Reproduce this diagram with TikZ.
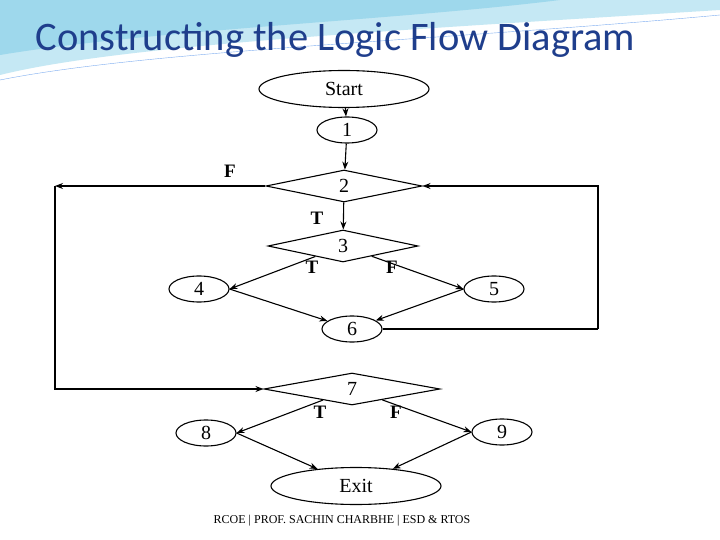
\documentclass[tikz,border=0pt]{standalone}
\usepackage{fontspec}
\setmainfont{Liberation Serif}
\newfontfamily\titlefont{Carlito}
\usetikzlibrary{shapes.geometric,arrows.meta}
\definecolor{titleblue}{HTML}{1F3E8C}
\definecolor{swoosh}{HTML}{9ED8EC}
\begin{document}
\begin{tikzpicture}[x=1pt,y=-1pt,
  ov/.style={draw,ellipse,line width=1.1pt,minimum width=60pt,minimum height=26pt,inner sep=0pt,font=\fontsize{20}{20}\selectfont},
  bigov/.style={ov,minimum width=170pt,minimum height=37pt},
  dm/.style={draw,diamond,line width=1.1pt,aspect=4.8,inner sep=0pt,font=\fontsize{20}{20}\selectfont},
  ar/.style={line width=1.1pt,-{Stealth[length=8pt,width=6pt]}},
  lb/.style={font=\fontsize{19}{19}\selectfont\bfseries}]
\useasboundingbox (0,0) rectangle (720,540);
\fill[white] (0,0) rectangle (720,540);
% decorative swoosh
\fill[swoosh!60] (0,0) -- (0,75) .. controls (120,45) and (400,30) .. (720,10) -- (720,0) -- cycle;
\fill[swoosh] (0,0) -- (0,55) .. controls (150,30) and (400,20) .. (560,0) -- cycle;
\draw[swoosh!80!blue,thin] (0,80) .. controls (150,50) and (450,40) .. (720,15);
\node[font=\titlefont\fontsize{40.5}{40.5}\selectfont,text=titleblue,anchor=west] (title) at (32,40) {Constructing the Logic Flow Diagram};
% nodes
\node[bigov] (start) at (344,89) {Start};
\node[ov] (n1) at (347,130) {1};
\node[dm,minimum width=156pt,minimum height=32pt] (n2) at (344,186) {2};
\node[dm,minimum width=150pt,minimum height=32pt] (n3) at (343,246) {3};
\node[ov] (n4) at (199,289) {4};
\node[ov] (n5) at (494,289) {5};
\node[ov] (n6) at (352,329) {6};
\node[dm,minimum width=176pt,minimum height=32pt] (n7) at (352,389) {7};
\node[ov] (n8) at (206,433) {8};
\node[ov] (n9) at (502,432) {9};
\node[bigov] (exit) at (356,486) {Exit};
\coordinate (l1) at (55,186);
\coordinate (l2) at (55,389);
\coordinate (r1) at (598,329);
\coordinate (r2) at (598,186);
% connectors
\draw[ar] (start) -- (n1);
\draw[ar] (n1) -- (n2);
\draw[ar] (n2) -- (n3);
\draw[ar] (n2.west) -- (l1);
\draw[ar] (l1) -- (l2) -- (n7.west);
\draw[ar] (n3) -- (n4.east);
\draw[ar] (n3) -- (n5.west);
\draw[ar] (n4.east) -- (n6);
\draw[ar] (n5.west) -- (n6);
\draw[line width=1.1pt] (n6.east) -- (r1);
\draw[ar] (r1) -- (r2) -- (n2.east);
\draw[ar] (n7) -- (n8.east);
\draw[ar] (n7) -- (n9.west);
\draw[ar] (n8.east) -- (exit);
\draw[ar] (n9.west) -- (exit);
% labels
\node[lb] (fl) at (230,171) {F};
\node[lb] (t2) at (317,218) {T};
\node[lb] (t3) at (312,267) {T};
\node[lb] (f3) at (392,267) {F};
\node[lb] (t7) at (320,412) {T};
\node[lb] (f7) at (396,412) {F};
\node[font=\fontsize{12}{12}\selectfont] (foot) at (342,521) {RCOE | PROF. SACHIN CHARBHE | ESD \& RTOS};
\end{tikzpicture}
\end{document}
